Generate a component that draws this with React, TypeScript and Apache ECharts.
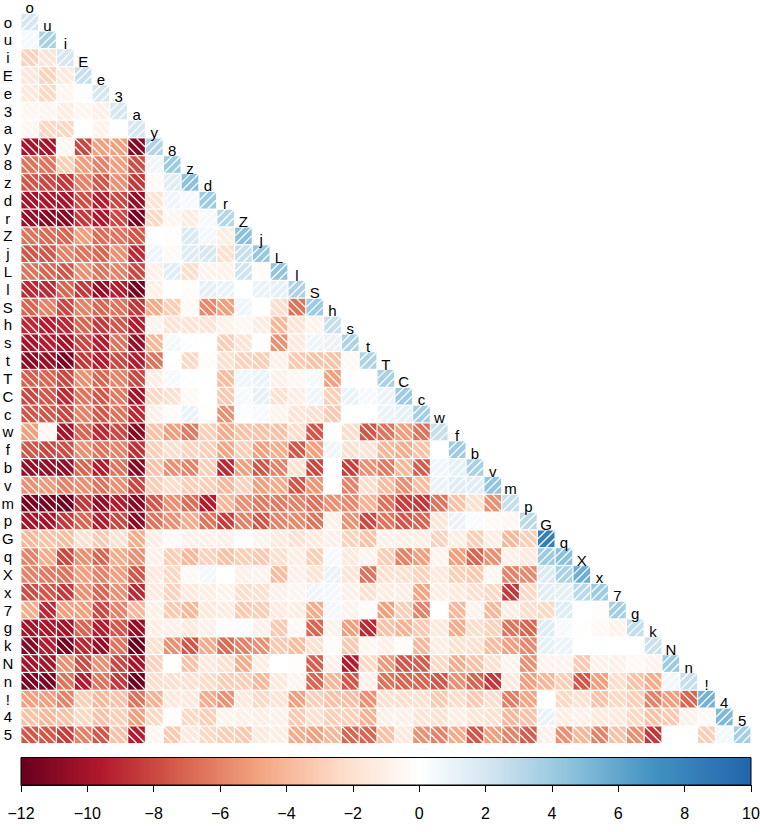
import React, { useEffect, useRef } from "react";
import * as echarts from "echarts";

const labels = ["o","u","i","E","e","3","a","y","8","z","d","r","Z","j","L","l","S","h","s","t","T","C","c","w","f","b","v","m","p","G","q","X","x","7","g","k","N","n","!","4","5"];

const rows: number[][] = [
[2],
[0.5,3.6],
[-2.8,-1.8,2],
[-1.6,-2.8,-1.5,2.5],
[-1.5,-2.5,-0.6,0.2,2],
[-0.6,-0.7,-1.2,-0.7,-1,2],
[-0.6,-2.6,-2.6,0,-0.9,0,2],
[-10,-10,-0.6,-8,-5,-5,-11,3.3],
[-6.5,-6.5,-3,-5,-6,-5,-7.8,0.8,4],
[-7.5,-8,-8.5,-6,-7.5,-5.5,-8.5,-0.5,1.5,4.6],
[-10,-9.8,-10,-7.8,-9.5,-8,-10.5,-1.8,0.8,0.5,4],
[-10.5,-11,-11,-8.5,-9.8,-8,-11.5,-2.5,-0.7,-1.3,0.5,3.2],
[-6.5,-6.8,-7,-5,-6.8,-6.5,-7.5,0,-0.1,1.8,0.7,-1.2,4.6],
[-7.5,-7.5,-6,-6.5,-7,-5.5,-9,0.8,-0.4,1.6,2,-2,2.5,4.2],
[-6.5,-7,-7.5,-5.5,-6.5,-6,-8,-1,1.5,-2.2,-0.8,-0.9,2.2,-0.3,4.4],
[-9,-9,-7,-8.5,-10.5,-9.5,-11.5,-1,0,-0.3,1.2,1,0,1,1.2,3.4],
[-7,-6,-8,-6,-7,-6.5,-8.5,-4.5,-3,-0.5,-5.8,-5,0.8,0,-2.2,-6.5,4],
[-9,-9.5,-9,-7,-8.5,-7.5,-9.5,-0.8,-1.8,-1.8,-1.8,-0.9,-0.6,-1.3,-4,-1.8,-0.8,2.6],
[-10,-9.5,-10,-8,-9.5,-6.5,-10.5,-4,0.6,0.2,0.1,-3,-1.8,0,-5.5,-1.5,0.8,1,3.4],
[-10.8,-10.5,-11.5,-8.5,-9.5,-8,-9.5,-6.5,0,-2.5,-0.3,-2,-2.8,-3,-1,-3.2,-3.5,-3.5,-0.5,3.4],
[-7.2,-7,-8,-5.5,-7,-6,-8,-1.2,0.4,0.1,0,-3.8,0.8,1,-1,-0.6,0.5,-5,0,0,3.6],
[-8,-7.5,-9,-6.5,-7.5,-6.3,-10,-2.5,-2,-0.4,0,-3.2,0.4,1.2,-2,-1.2,0.8,-3,1,0.5,1,4],
[-7.5,-7.5,-8,-6,-7.5,-6.5,-9,-1,-0.3,1,-0.1,-5.5,0.2,0.4,-0.8,-1.8,-2,-3.2,0,0,1,1.2,3.8],
[-5,-0.6,-10,-7,-9,-8,-11,-3.5,-5,-6.3,-3,-4.5,-3.5,-3.5,-3.5,-2.2,-7.5,0,-2.2,-7.5,-6.5,-5,-6.5,2.6],
[-7.5,-8,-7.8,-5.5,-6.5,-6,-8.8,-3,-2.2,-2.8,-3,-4.8,-3,-5,-4.5,-7.5,-5,0.8,-2,-1.8,-4,-4.5,-3.5,0,4],
[-10.5,-10.5,-10.5,-7,-9.5,-6.5,-11,-3.5,-5.5,-6,-3,-9,-5,-7.5,-6,-2,-8,0,-8.3,-5.5,-6.3,-4,-7.3,0.8,1.2,3.6],
[-5.5,-5.2,-6,-5.5,-6.5,-5.5,-8,-3,-2.2,-3,-3,-4,-2.8,-5,-4.5,-7.5,-5.3,0,-6,-2.2,-3.8,-5.5,-3.8,1,1.5,1.4,4.4],
[-11.5,-11.5,-11.8,-8.5,-10.5,-9.5,-11,-7.5,-5.5,-6.8,-9.5,-4,-5.5,-6.3,-6.3,-6,-6.5,-5.5,-5.8,-4.2,-6.5,-8.3,-8.5,-6.5,-3.5,-2,-5.5,2.6],
[-10,-10,-8.5,-7,-9.5,-8,-10.8,-6.5,-5.5,-4.5,-6.5,-8.3,-6,-7.5,-6,-5.8,-6.5,-1,-5.5,-8,-6.5,-7.5,-7,-1.7,1,0.3,-0.4,-0.6,3],
[-4,-3.5,-3.8,-2,-3.2,-2,-4.5,-1.2,-0.4,-1,-1,-1,-0.3,-0.8,-1.5,-2,-1.5,-1,-2.8,-3.5,-1,-1.2,-1.2,-2.8,-1.2,-3,-1.2,-4,-3,8.3],
[-6,-4.5,-8,-5.5,-7,-4.5,-5.5,-1,-3,-4,-2.8,-3.5,-3,-3.2,-2,-1.2,-3,0.4,-1.5,-0.8,-3,-6,-5,-0.8,-5,-7,-5.5,-1,-1.5,4,4.6],
[-6,-6.3,-6.5,-5,-6,-5,-7.5,-1.5,-2.5,-0.4,0.6,0,-1,-0.8,-3.8,-1,-1.8,1,-1.8,-6.5,-2,-2,-2.8,-1.5,-3,-3.2,-0.6,-6,-5.8,1.7,3.5,5.6],
[-7.8,-7.5,-8.5,-5.5,-7,-5.5,-9,-1.5,-2.8,-1.5,-1.2,-0.8,-2.2,-2,-1,-0.7,0.8,0.7,-1,-2,-1.2,-1.2,-4.8,-1.2,-1.5,-2,-2.5,-8.5,-2.5,1.4,1.3,3,4],
[-4.5,-9,-5,-5,-8,-6,-4,-1,-3.2,-4,-1.5,-1.3,-3.2,-3,-1.4,-1.2,-4.5,0.7,-0.8,-0.3,-5,-3,-6,0,-4,-0.8,-4,-1.3,-2.2,-2.5,1.6,0,-0.2,3.8],
[-10,-9.8,-10,-7,-9.5,-7.5,-10.5,-1.2,-1,-1.5,-1,-0.3,0.3,-1,-3.2,-0.4,-7,-0.8,-5,-9,-3.5,-4.2,-3.2,-1.5,-4.5,-2.2,-2.8,-6.5,-7,1.6,0.4,-0.1,-0.4,-0.8,2.7],
[-11,-9.5,-11.5,-9,-10.5,-6.5,-12,-2,-5.5,-7.5,-4.5,-6.8,-6,-5.5,-3.2,-3.8,-2,-0.3,-3.2,-0.6,-1,-0.3,-4,-1.2,-2,-2,-3.8,-5,-5.8,1.2,0.9,0,0.2,0,0,2.4],
[-10,-10,-5.5,-7.8,-5.5,-8,-10,-2.8,0,-3.5,-1.5,-2,-4.5,-1.2,0,-0.2,-7.2,-1,-9.5,-2.5,-5.2,-7.5,-7.3,-2.5,-4.5,-3.5,-2,-0.8,-5.5,-0.8,-0.8,-3.2,-1,-1,-0.5,-0.8,4],
[-11.5,-11.5,-6.5,-9.5,-6.5,-8.5,-11.8,-2.2,-2,-2,-2.3,-3,-3,-4,-1.5,-0.8,-7,-4,-7.5,-1,-6.5,-7,-7,-7.5,-5.5,-7,-8.5,-1.5,-5,-4,-3,-7.5,-5,-2.2,-3.5,-4.5,0.7,2.6],
[-5,-5,-6,-3,-4,-3.5,-6.5,-4.2,-1.5,-1.5,-4.5,-5.5,-1.5,-2.5,-1.8,-5,-3,-3.5,-3.7,-5.5,-2,-2.2,-2,-3.2,-2.3,-3.2,-2.2,-6.2,-4.8,0,-2.5,-2,-3.5,-2.5,-3,-6,-5,-7,5.4],
[-3.5,-4,-3.5,-2.5,-3.5,-3,-5,-2.5,-0.2,-2.5,-3,-0.8,-1,-1.2,-1,-3.2,-2,-3,-3,-4.2,-1,-1,-1.8,-2,-1.2,-1.8,-2,-4,-3.5,1,-1.2,-1,-1.5,-1.5,-2.5,-3.5,-3.2,-1,-0.5,5],
[-7.5,-7.5,-8.3,-6,-7.5,-3.5,-9.5,-0.6,-3.2,-1.5,-2.5,-3,-3.2,-1.5,-1.2,-4.5,-5,-4,-7,-7,-3.5,-1.5,-5.5,-6,-4.5,-7.5,-5,-6,-7.3,-1,-5.5,-4,-6,-3.5,-5.5,-8.5,0,-0.1,-3,0.7,3.8],
];

const scaleMin = -12;
const scaleMax = 10;
const stopValues = [-12, -9.6, -7.2, -4.8, -2.4, 0, 2, 4.4, 7, 10];
const stopColors = ["#67001f", "#b2182b", "#d6604d", "#f4a582", "#fddbc7", "#ffffff", "#d6e7f1", "#92c5de", "#4393c3", "#2166ac"];

function hex(c: string) {
  return [1, 3, 5].map((i) => parseInt(c.slice(i, i + 2), 16));
}
function colorOf(v: number) {
  for (let i = 1; i < stopValues.length; i++) {
    if (v <= stopValues[i]) {
      const t = (v - stopValues[i - 1]) / (stopValues[i] - stopValues[i - 1]);
      const a = hex(stopColors[i - 1]);
      const b = hex(stopColors[i]);
      return `rgb(${a.map((x, k) => Math.round(x + (b[k] - x) * t)).join(",")})`;
    }
  }
  return stopColors[stopColors.length - 1];
}

const FONT = '"Liberation Sans", Arial, sans-serif';

export default function App() {
  const ref = useRef<HTMLDivElement>(null);
  useEffect(() => {
    const chart = echarts.init(ref.current!, undefined, { renderer: "svg" });
    const cells: number[][] = [];
    rows.forEach((vals, r) => vals.forEach((v, c) => cells.push([c, r, v])));

    const renderCell = (params: any, api: any) => {
      const c = api.value(0);
      const r = api.value(1);
      const v = api.value(2);
      const centre = api.coord([c, r]);
      const band = api.size([1, 1]);
      const w = band[0] - 1.25;
      const h = band[1] - 1.25;
      const x = centre[0] - w / 2;
      const y = centre[1] - h / 2;
      const children: any[] = [
        { type: "rect", shape: { x, y, width: w, height: h }, style: { fill: colorOf(v) } },
      ];
      const lineStyle = { stroke: "#ffffff", lineWidth: 1.3, opacity: 1 };
      const a = 0.5;
      const shapes = v < 0
        ? [
            { x1: x, y1: y + a * h, x2: x + (1 - a) * w, y2: y + h },
            { x1: x, y1: y, x2: x + w, y2: y + h },
            { x1: x + a * w, y1: y, x2: x + w, y2: y + (1 - a) * h },
          ]
        : [
            { x1: x, y1: y + (1 - a) * h, x2: x + (1 - a) * w, y2: y },
            { x1: x, y1: y + h, x2: x + w, y2: y },
            { x1: x + a * w, y1: y + h, x2: x + w, y2: y + a * h },
          ];
      shapes.forEach((shape) => children.push({ type: "line", shape, style: lineStyle }));
      if (c === r) {
        children.push({
          type: "text",
          style: {
            text: labels[c],
            x: centre[0],
            y: y - 6,
            align: "center",
            verticalAlign: "middle",
            font: `15px ${FONT}`,
            fill: "#000",
          },
        });
      }
      return { type: "group", children };
    };

    const renderBar = (params: any, api: any) => {
      const a = api.coord([scaleMin, 0]);
      const b = api.coord([scaleMax, 1]);
      return {
        type: "rect",
        shape: { x: a[0], y: b[1], width: b[0] - a[0], height: a[1] - b[1] },
        style: {
          stroke: "#000",
          lineWidth: 1,
          fill: new echarts.graphic.LinearGradient(
            0, 0, 1, 0,
            stopValues.map((s, i) => ({
              offset: (s - scaleMin) / (scaleMax - scaleMin),
              color: stopColors[i],
            })),
          ),
        },
      };
    };

    chart.setOption({
      animation: false,
      backgroundColor: "#fff",
      grid: [
        { left: 20.8, top: 13.1, width: 730.2, height: 730.6, outerBoundsMode: "none" },
        { left: 21, top: 757.5, width: 730, height: 27.5, outerBoundsMode: "none" },
      ],
      xAxis: [
        {
          type: "category",
          data: labels,
          gridIndex: 0,
          axisLine: { show: false },
          axisTick: { show: false },
          axisLabel: { show: false },
          splitLine: { show: false },
        },
        {
          type: "value",
          gridIndex: 1,
          min: scaleMin,
          max: scaleMax,
          interval: 2,
          splitLine: { show: false },
          axisLine: { show: true, lineStyle: { color: "#000", width: 1 } },
          axisTick: { show: true, length: 7, lineStyle: { color: "#000", width: 1 } },
          axisLabel: {
            margin: 20,
            fontSize: 16,
            fontFamily: FONT,
            color: "#000",
            showMinLabel: true,
            showMaxLabel: true,
            hideOverlap: false,
            formatter: (v: number) => String(v).replace("-", "\u2212"),
          },
        },
      ],
      yAxis: [
        {
          type: "category",
          data: labels,
          inverse: true,
          gridIndex: 0,
          axisLine: { show: false },
          axisTick: { show: false },
          splitLine: { show: false },
          axisLabel: {
            interval: 0,
            align: "center",
            margin: 13,
            fontSize: 15,
            fontFamily: FONT,
            color: "#000",
          },
        },
        {
          type: "value",
          gridIndex: 1,
          min: 0,
          max: 1,
          show: false,
        },
      ],
      series: [
        {
          type: "custom",
          xAxisIndex: 0,
          yAxisIndex: 0,
          coordinateSystem: "cartesian2d",
          data: cells,
          renderItem: renderCell,
          clip: false,
          silent: true,
        },
        {
          type: "custom",
          xAxisIndex: 1,
          yAxisIndex: 1,
          coordinateSystem: "cartesian2d",
          data: [[scaleMin, 0]],
          renderItem: renderBar,
          silent: true,
        },
      ],
    });
    return () => chart.dispose();
  }, []);
  return (
    <div
      ref={ref}
      style={{ position: "absolute", left: 0, top: 0, width: 760, height: 832 }}
    />
  );
}
